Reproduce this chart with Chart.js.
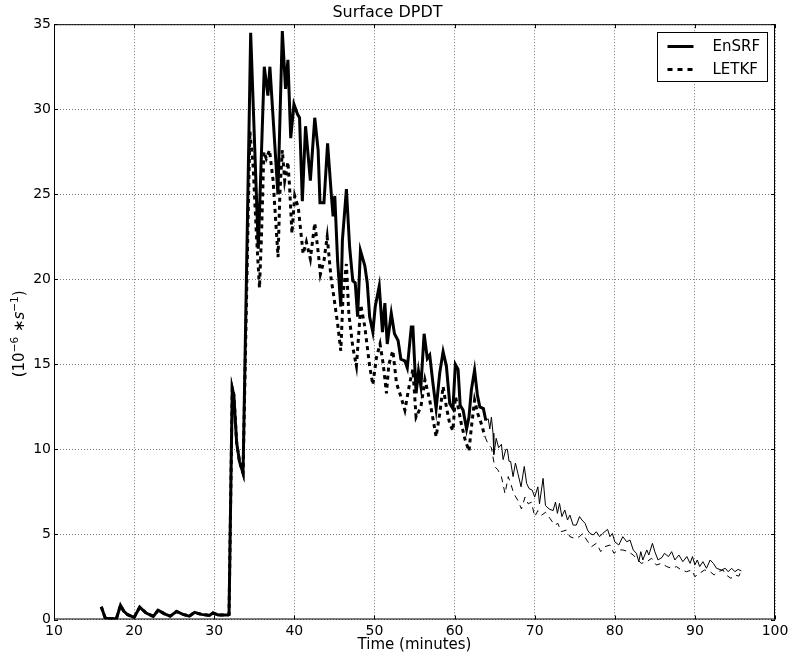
<!DOCTYPE html>
<html>
<head>
<meta charset="utf-8">
<script src="https://cdn.jsdelivr.net/npm/chart.js@4.4.0/dist/chart.umd.min.js"></script>
<style>
  html, body { margin: 0; padding: 0; background: #fff; }
  #chart { display: block; }
</style>
</head>
<body>
<canvas id="chart" width="793" height="656"></canvas>
<script>
// time in minutes, values in 10^-6 s^-1
const ensrfTime = [15.9, 16.4, 17.0, 17.8, 18.3, 18.7, 19.2, 20.0, 20.7, 21.5, 22.4, 23.0, 23.8, 24.5, 25.3, 26.1, 26.9, 27.55, 28.4, 29.4, 29.85, 30.5, 31.7, 31.85,
    32.25, 32.45, 32.8, 33.15, 33.6, 34.55, 35.5, 36.25, 36.7, 36.95, 37.95, 38.5, 38.9, 39.2, 39.55, 39.95, 40.4, 40.65, 41.0, 41.4, 42.0, 42.55, 42.97,
    43.2, 43.7, 44.15, 44.63, 44.84, 45.05, 45.4, 45.8, 46.0, 46.5, 46.9, 47.3, 47.6, 47.9, 48.25, 48.8, 49.1, 49.4, 49.8, 50.1, 50.6, 51.0, 51.3, 51.6,
    52.1, 52.5, 52.95, 53.3, 53.8, 54.1, 54.6, 54.8, 55.2, 55.5, 55.8, 56.2, 56.6, 56.9, 57.3, 57.7, 58.15, 58.57, 58.98, 59.4, 59.8, 60.1, 60.44, 60.7,
    61.07, 61.5, 61.8, 62.1, 62.5, 62.85, 63.15, 63.6, 63.9, 64.2, 64.4, 64.6, 64.8, 64.9, 65.2, 65.5, 65.85, 66.06, 66.4, 66.6, 66.8, 67.0, 67.3, 67.6,
    67.9, 68.3, 68.7, 69.0, 69.3, 69.7, 70.0, 70.4, 70.6, 71.05, 71.35, 71.8, 72.3, 72.6, 72.84, 73.1, 73.4, 73.76, 74.1, 74.4, 74.8, 75.2, 75.6, 75.9,
    76.3, 76.6, 76.9, 77.3, 77.7, 78.1, 78.5, 79.1, 79.4, 79.7, 80.0, 80.5, 81.0, 81.5, 81.9, 82.3, 82.7, 83.0, 83.25, 83.5, 84.0, 84.25, 84.7, 85.0,
    85.4, 85.9, 86.2, 86.7, 87.1, 87.5, 88.0, 88.5, 89.0, 89.4, 89.7, 90.0, 90.3, 90.6, 91.0, 91.45, 91.9, 92.3, 92.7, 93.3, 93.8, 94.15, 94.6, 95.0,
    95.4, 95.8];
const ensrfVals = [0.75, 0.08, 0.05, 0.06, 0.83, 0.5, 0.28, 0.12, 0.72, 0.38, 0.18, 0.55, 0.33, 0.2, 0.47, 0.3, 0.2, 0.42, 0.3, 0.24, 0.38, 0.27, 0.27, 0.3,
    13.6, 13.2, 10.4, 9.3, 8.6, 34.5, 21.8, 32.5, 30.8, 32.5, 25.0, 34.6, 31.2, 32.9, 28.3, 30.3, 29.7, 29.5, 24.6, 29.0, 25.8, 29.5, 27.6,
    24.5, 24.5, 28.0, 24.9, 23.7, 24.9, 21.1, 18.4, 22.3, 25.3, 21.9, 19.9, 19.8, 17.8, 21.7, 20.8, 19.8, 17.8, 16.9, 18.4, 19.6, 16.9, 18.6, 16.2,
    18.0, 16.8, 16.4, 15.3, 15.2, 14.8, 17.2, 17.2, 13.3, 14.6, 13.7, 16.8, 15.35, 15.55, 13.9, 12.4, 14.5, 15.75, 14.9, 12.7, 12.4, 15.0, 14.7, 12.6,
    12.3, 11.2, 11.9, 13.5, 14.67, 13.2, 12.5, 12.4, 11.7, 11.8, 11.2, 11.9, 10.95, 9.7, 10.65, 10.1, 10.3, 9.4, 10.0, 10.0, 9.3, 9.3, 8.4, 9.2,
    8.6, 7.8, 9.0, 8.0, 7.7, 7.6, 7.2, 7.8, 6.8, 8.3, 6.7, 6.5, 6.4, 6.9, 6.24, 6.83, 6.05, 6.44, 5.85, 6.14, 5.55, 5.55, 6.05, 5.85,
    5.65, 5.26, 5.06, 4.97, 5.16, 4.87, 5.06, 5.3, 4.87, 5.06, 4.57, 4.38, 4.87, 4.57, 4.67, 4.09, 3.89, 3.4, 3.99, 3.5, 4.09, 3.79, 4.48, 3.99,
    3.5, 3.65, 3.89, 3.7, 3.99, 3.5, 3.79, 3.4, 3.7, 3.3, 3.7, 3.21, 3.5, 3.11, 3.4, 3.01, 3.5, 3.3, 3.01, 2.91, 3.01, 2.81, 3.01, 2.81,
    2.95, 2.85];

const letkfTime = [15.9, 16.4, 17.0, 17.8, 18.3, 18.7, 19.2, 20.0, 20.7, 21.5, 22.4, 23.0, 23.8, 24.5, 25.3, 26.1, 26.9, 27.55, 28.4, 29.4, 29.85, 30.5, 31.7, 31.85,
    32.25, 32.45, 32.8, 33.15, 33.6, 34.45, 34.85, 35.27, 35.65, 35.9, 36.2, 36.5, 36.9, 37.35, 37.97, 38.2, 38.5, 38.8, 39.2, 39.4, 39.7, 40.05, 40.5,
    41.1, 41.5, 42.0, 42.55, 43.0, 43.25, 43.7, 44.1, 44.6, 44.8, 45.4, 45.8, 46.1, 46.5, 46.8, 47.3, 47.75, 48.3, 48.8, 49.4, 49.8, 50.25, 50.7, 51.1,
    51.5, 51.8, 52.3, 52.75, 53.3, 53.8, 54.4, 54.8, 55.2, 55.8, 56.3, 56.6, 56.9, 57.3, 57.7, 58.15, 58.57, 58.98, 59.4, 59.8, 60.1, 60.44, 60.85, 61.3,
    61.8, 62.1, 62.5, 62.9, 63.35, 63.8, 64.2, 64.6, 65.0, 65.4, 65.85, 66.3, 66.7, 67.0, 67.4, 67.9, 68.35, 68.8, 69.2, 69.6, 70.0, 70.4, 70.85, 71.35,
    71.9, 72.5, 72.9, 73.3, 73.96, 74.4, 75.0, 75.6, 76.0, 76.5, 77.1, 77.7, 78.25, 78.75, 79.4, 79.9, 80.4, 81.0, 81.7, 82.3, 82.7, 83.3, 84.0, 84.6,
    85.2, 85.8, 86.5, 87.1, 87.7, 88.3, 88.95, 89.6, 90.0, 90.6, 91.2, 91.9, 92.4, 92.9, 93.5, 93.9, 94.5, 95.0, 95.5, 95.7];
const letkfVals = [0.75, 0.08, 0.05, 0.06, 0.83, 0.5, 0.28, 0.12, 0.72, 0.38, 0.18, 0.55, 0.33, 0.2, 0.47, 0.3, 0.2, 0.42, 0.3, 0.24, 0.38, 0.27, 0.27, 0.3,
    13.6, 13.2, 10.4, 9.3, 8.6, 28.7, 26.7, 22.6, 19.5, 22.6, 27.5, 27.1, 27.6, 25.8, 21.3, 25.1, 27.6, 25.8, 26.9, 25.5, 22.7, 24.9, 24.2,
    21.5, 22.2, 21.2, 23.3, 21.5, 20.3, 21.1, 22.5, 20.0, 19.4, 17.4, 15.8, 19.2, 20.9, 18.0, 16.0, 14.9, 18.5, 17.2, 14.9, 13.8, 15.4, 16.2, 15.0,
    13.3, 15.0, 15.8, 13.9, 13.1, 12.3, 13.9, 14.7, 11.9, 12.5, 14.1, 13.5, 12.9, 11.8, 10.75, 12.1, 13.7, 12.5, 11.5, 11.1, 13.1, 12.5, 11.5, 10.6,
    9.9, 11.3, 12.9, 12.1, 11.5, 10.75, 10.3, 10.1, 9.0, 8.8, 8.4, 7.4, 8.4, 8.0, 7.4, 7.0, 6.5, 7.2, 6.8, 6.9, 6.05, 6.4, 6.13, 6.3,
    5.95, 5.55, 5.65, 5.16, 5.26, 4.87, 4.77, 4.87, 5.06, 4.67, 4.28, 4.48, 3.99, 4.28, 4.38, 3.89, 4.09, 4.09, 3.99, 3.79, 3.6, 3.3, 3.4, 3.6,
    3.2, 3.3, 3.11, 3.01, 3.11, 2.91, 2.81, 2.91, 2.52, 2.72, 2.91, 2.81, 2.62, 2.81, 2.91, 2.62, 2.42, 2.62, 2.55, 2.81];

const xTicks = [10, 20, 30, 40, 50, 60, 70, 80, 90, 100];
const yTicks = [0, 5, 10, 15, 20, 25, 30, 35];
const thinFrom = 63.7; // the lines are drawn thin after this time

Chart.defaults.font.family = "'DejaVu Sans', sans-serif";
Chart.defaults.color = '#000';

function toPoints(times, vals) {
    return times.map((t, i) => ({ x: t, y: vals[i] }));
}

const thick = 3;
const thin = 1;

// y label written like matplotlib mathtext: (10^{-6} *s^{-1})
const yLabelParts = [
    { text: '(10', font: "15px 'DejaVu Sans'", rise: 0 },
    { text: '\u22126', font: "10.5px 'DejaVu Sans'", rise: 6 },
    { text: ' \u2217', font: "15px 'DejaVu Sans'", rise: 0 },
    { text: 's', font: "italic 15px 'DejaVu Sans'", rise: 0 },
    { text: '\u22121', font: "10.5px 'DejaVu Sans'", rise: 6 },
    { text: ')', font: "15px 'DejaVu Sans'", rise: 0 }
];

// matplotlib style box: full frame, ticks pointing in, legend inside the axes
const framePlugin = {
    id: 'frame',
    afterDraw(chart) {
        const { ctx, chartArea: a, scales: { x, y } } = chart;
        ctx.save();
        ctx.strokeStyle = '#000';
        ctx.lineWidth = 1;
        ctx.setLineDash([]);
        ctx.strokeRect(a.left + 0.5, a.top + 0.5, a.right - a.left - 1, a.bottom - a.top - 1);

        ctx.beginPath();
        xTicks.forEach(v => {
            let px = Math.round(x.getPixelForValue(v)) + 0.5;
            ctx.moveTo(px, a.bottom); ctx.lineTo(px, a.bottom - 4);
            ctx.moveTo(px, a.top); ctx.lineTo(px, a.top + 4);
        });
        yTicks.forEach(v => {
            let py = Math.round(y.getPixelForValue(v)) + 0.5;
            ctx.moveTo(a.left, py); ctx.lineTo(a.left + 4, py);
            ctx.moveTo(a.right, py); ctx.lineTo(a.right - 4, py);
        });
        ctx.stroke();

        // legend
        let bw = 110, bh = 49;
        let bx = Math.round(a.right - 8 - bw) + 0.5;
        let by = Math.round(a.top + 8) + 0.5;
        ctx.fillStyle = '#fff';
        ctx.fillRect(bx, by, bw, bh);
        ctx.strokeRect(bx, by, bw, bh);

        let items = [
            { text: 'EnSRF', dash: [] },
            { text: 'LETKF', dash: [5, 5] }
        ];
        ctx.font = "15px 'DejaVu Sans'";
        ctx.textBaseline = 'middle';
        ctx.fillStyle = '#000';
        items.forEach((it, i) => {
            let ly = by + 14 + i * 23;
            ctx.lineWidth = thick;
            ctx.setLineDash(it.dash);
            ctx.beginPath();
            ctx.moveTo(bx + 10, ly);
            ctx.lineTo(bx + 36, ly);
            ctx.stroke();
            ctx.setLineDash([]);
            ctx.fillText(it.text, bx + 55, ly + 1);
        });

        // y axis label
        ctx.translate(19, (a.top + a.bottom) / 2 + 12);
        ctx.rotate(-Math.PI / 2);
        ctx.textBaseline = 'alphabetic';
        let total = 0;
        yLabelParts.forEach(p => { ctx.font = p.font; total += ctx.measureText(p.text).width; });
        let cx = -total / 2;
        yLabelParts.forEach(p => {
            ctx.font = p.font;
            ctx.fillText(p.text, cx, 5 - p.rise);
            cx += ctx.measureText(p.text).width;
        });
        ctx.restore();
    }
};

const chart = new Chart(document.getElementById('chart'), {
    type: 'line',
    data: {
        datasets: [
            {
                label: 'LETKF',
                data: toPoints(letkfTime, letkfVals),
                borderColor: '#000',
                borderWidth: thick,
                borderDash: [4, 4],
                pointRadius: 0,
                tension: 0,
                segment: {
                    borderWidth: c => c.p0.parsed.x >= thinFrom ? thin : thick,
                    borderDash: c => c.p0.parsed.x >= thinFrom ? [6, 5] : [4, 4]
                }
            },
            {
                label: 'EnSRF',
                data: toPoints(ensrfTime, ensrfVals),
                borderColor: '#000',
                borderWidth: thick,
                pointRadius: 0,
                tension: 0,
                segment: {
                    borderWidth: c => c.p0.parsed.x >= thinFrom ? thin : thick
                }
            }
        ]
    },
    options: {
        responsive: false,
        animation: false,
        devicePixelRatio: 1,
        layout: { padding: { top: 0, right: 18, bottom: 0, left: 0 } },
        plugins: {
            legend: { display: false },
            tooltip: { enabled: false },
            title: {
                display: true,
                text: 'Surface DPDT',
                color: '#000',
                font: { size: 16, weight: 'normal' },
                padding: { top: 3, bottom: 2 }
            }
        },
        scales: {
            x: {
                type: 'linear',
                min: 10,
                max: 100,
                afterFit(s) { s.height = 36.5; },
                ticks: { stepSize: 10, padding: 3, maxRotation: 0, autoSkip: false, font: { size: 14 }, color: '#000' },
                grid: { color: '#555', lineWidth: 0.8, drawTicks: false },
                border: { display: false, dash: [1, 2] },
                title: {
                    display: true,
                    text: 'Time (minutes)',
                    color: '#000',
                    font: { size: 15 },
                    padding: { top: 0, bottom: 2 }
                }
            },
            y: {
                min: 0,
                max: 35,
                afterFit(s) { s.width = 54; },
                ticks: { stepSize: 5, padding: 3, font: { size: 14 }, color: '#000' },
                grid: { color: '#555', lineWidth: 0.8, drawTicks: false },
                border: { display: false, dash: [1, 2] }
            }
        }
    },
    plugins: [framePlugin]
});
</script>
</body>
</html>
